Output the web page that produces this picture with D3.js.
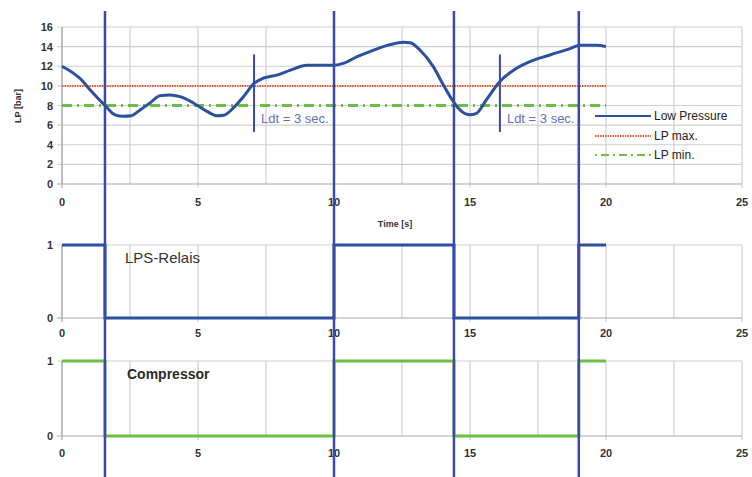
<!DOCTYPE html>
<html><head><meta charset="utf-8">
<script src="https://cdn.jsdelivr.net/npm/d3@7"></script>
<style>
body{margin:0;background:#fff;}
text{font-family:"Liberation Sans",Arial,sans-serif;}
</style></head>
<body><svg id="c" width="752" height="477"></svg>
<script>
// ---- data ----
const timeS = [0,0.72,1.03,1.58,1.95,2.25,2.55,2.87,3.24,3.6,3.97,4.34,4.83,5.33,5.7,5.94,6.3,6.67,7.07,7.4,7.9,8.4,9.0,9.96,10.34,10.85,11.32,11.7,12.06,12.55,12.8,13.16,13.65,14.02,14.39,14.63,15.0,15.24,15.6,16.1,16.6,17.2,17.94,18.68,19.04,19.66,20.0];
const lowPressure = [12.0,10.6,9.6,8.0,7.05,6.9,6.95,7.55,8.27,9.0,9.08,8.9,8.26,7.4,6.95,7.0,7.75,8.9,10.27,10.78,11.1,11.6,12.1,12.1,12.3,12.98,13.5,13.9,14.2,14.45,14.4,13.66,11.96,10.1,8.4,7.56,7.05,7.2,8.57,10.44,11.6,12.47,13.15,13.8,14.14,14.14,14.0];
const lpMax = 10;
const lpMin = 8;
const limitRange = [0, 20];
const stepTimes = [0,1.58,10,14.41,19.0,20];
const relaisState = [1,0,1,0,1,1];
const compressorState = [1,0,1,0,1,1];
const switchTimes = [1.58,10,14.41,19.0];
const ldtTimes = [7.06,16.1];
const ldtLabels = ["Ldt = 3 sec.","Ldt = 3 sec."];
const xTicks = [0,5,10,15,20,25];
const yTicksLP = [0,2,4,6,8,10,12,14,16];
const yTicksBin = [0,1];
const legendLabels = ["Low Pressure","LP max.","LP min."];

// ---- layout ----
const svg = d3.select("#c");
const x = d3.scaleLinear().domain([0,25]).range([62,742]);
const yTop = d3.scaleLinear().domain([0,16]).range([184,27]);
const yMid = d3.scaleLinear().domain([0,1]).range([318,245]);
const yBot = d3.scaleLinear().domain([0,1]).range([436,361]);
const gridX = d3.range(0,25.01,2.5);
const gridCol = "#cfcfcf", axisCol = "#a8a8a8", txtCol = "#333";
const blue = "#2c4f9e", vBlue = "#3b4aa6", green = "#6cbf45", red = "#ef5a36";

function panel(y, yTicks, labelY){
  const g = svg.append("g");
  g.selectAll(".vg").data(gridX).join("line")
    .attr("x1",d=>x(d)).attr("x2",d=>x(d))
    .attr("y1",y.range()[1]).attr("y2",d=> (d%5===0 && d>0)? y.range()[0]+4 : y.range()[0])
    .attr("stroke",gridCol).attr("stroke-width",1.2);
  g.selectAll(".hg").data(yTicks).join("line")
    .attr("x1",x(0)-5).attr("x2",x(25))
    .attr("y1",d=>y(d)).attr("y2",d=>y(d))
    .attr("stroke",d=>d===0?axisCol:gridCol).attr("stroke-width",1.2);
  g.append("line").attr("x1",x(0)).attr("x2",x(0)).attr("y1",y.range()[1]).attr("y2",y.range()[0]+4)
    .attr("stroke",axisCol).attr("stroke-width",1.2);
  g.selectAll(".yl").data(yTicks).join("text")
    .attr("x",53).attr("y",d=>y(d)+4).attr("text-anchor","end")
    .attr("font-size",11).attr("font-weight","bold").attr("fill",txtCol).text(d=>d);
  g.selectAll(".xl").data(xTicks).join("text")
    .attr("x",d=>x(d)).attr("y",labelY).attr("text-anchor","middle")
    .attr("font-size",11).attr("font-weight","bold").attr("fill",txtCol).text(d=>d);
  return g;
}

panel(yTop, yTicksLP, 206);
panel(yMid, yTicksBin, 337);
panel(yBot, yTicksBin, 457);

svg.append("text").attr("transform","translate(21,106) rotate(-90)").attr("text-anchor","middle")
  .attr("font-size",9).attr("font-weight","bold").attr("fill",txtCol).text("LP [bar]");
svg.append("text").attr("x",395).attr("y",227).attr("text-anchor","middle")
  .attr("font-size",9).attr("font-weight","bold").attr("fill",txtCol).text("Time [s]");

svg.append("line").attr("x1",x(limitRange[0])).attr("x2",x(limitRange[1]))
  .attr("y1",yTop(lpMax)).attr("y2",yTop(lpMax))
  .attr("stroke",red).attr("stroke-width",2).attr("stroke-dasharray","1.5,1");
svg.append("line").attr("x1",x(limitRange[0])).attr("x2",x(limitRange[1]))
  .attr("y1",yTop(lpMin)).attr("y2",yTop(lpMin))
  .attr("stroke",green).attr("stroke-width",3).attr("stroke-dasharray","10,5,2,5");

const pts = timeS.map((t,i)=>[t,lowPressure[i]]);
svg.append("path").datum(pts)
  .attr("d", d3.line().x(d=>x(d[0])).y(d=>yTop(d[1])).curve(d3.curveMonotoneX))
  .attr("fill","none").attr("stroke",blue).attr("stroke-width",3);

function steps(state, y, col){
  const d = stepTimes.map((t,i)=>[t,state[i]]);
  svg.append("path").datum(d)
    .attr("d", d3.line().x(p=>x(p[0])).y(p=>y(p[1])).curve(d3.curveStepAfter))
    .attr("fill","none").attr("stroke",col).attr("stroke-width",3);
}
steps(relaisState, yMid, blue);
steps(compressorState, yBot, green);

svg.append("text").attr("x",125).attr("y",263).attr("font-size",15).attr("fill","#333").text("LPS-Relais");
svg.append("text").attr("x",127).attr("y",379).attr("font-size",14).attr("font-weight","bold").attr("fill","#2a2a2a").text("Compressor");

svg.selectAll(".sw").data(switchTimes).join("line")
  .attr("x1",d=>x(d)).attr("x2",d=>x(d)).attr("y1",11).attr("y2",477)
  .attr("stroke",vBlue).attr("stroke-width",2.5);

svg.selectAll(".ldt").data(ldtTimes).join("line")
  .attr("x1",d=>x(d)).attr("x2",d=>x(d)).attr("y1",yTop(13.2)).attr("y2",yTop(5.3))
  .attr("stroke",vBlue).attr("stroke-width",2);
svg.selectAll(".ldtt").data(ldtTimes).join("text")
  .attr("x",d=>x(d)+7).attr("y",yTop(6.2)).attr("font-size",13).attr("fill","#6a6db8")
  .text((d,i)=>ldtLabels[i]);

const lg = svg.append("g");
const ly = [116,136,155];
lg.append("line").attr("x1",595).attr("x2",651).attr("y1",ly[0]).attr("y2",ly[0]).attr("stroke",blue).attr("stroke-width",2);
lg.append("line").attr("x1",595).attr("x2",651).attr("y1",ly[1]).attr("y2",ly[1]).attr("stroke",red).attr("stroke-width",1.8).attr("stroke-dasharray","1.5,1");
lg.append("line").attr("x1",595).attr("x2",651).attr("y1",ly[2]).attr("y2",ly[2]).attr("stroke",green).attr("stroke-width",2).attr("stroke-dasharray","2,4,8,4");
lg.selectAll("text").data(legendLabels).join("text")
  .attr("x",654).attr("y",(d,i)=>ly[i]+4).attr("font-size",12).attr("fill","#222").text(d=>d);
</script></body></html>
